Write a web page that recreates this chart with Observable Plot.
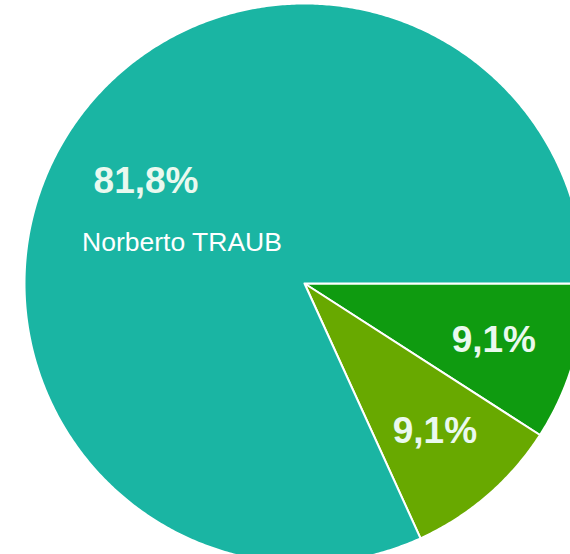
<!DOCTYPE html>
<html>
<head>
<meta charset="utf-8">
<script src="https://cdn.jsdelivr.net/npm/d3@7"></script>
<script src="https://cdn.jsdelivr.net/npm/@observablehq/plot@0.6"></script>
<style>
  html, body { margin: 0; padding: 0; background: #ffffff; overflow: hidden; }
  #chart svg { display: block; overflow: hidden; }
</style>
</head>
<body>
<div id="chart"></div>
<script>
// Slices in clockwise order, starting at 3 o'clock
const sliceNames = ["", "", "Norberto TRAUB"]; // only the large slice is named in the picture
const sliceShares = [9.1, 9.1, 81.8];
const shareLabels = ["9,1%", "9,1%", "81,8%"];
const sliceColors = ["#0f9b10", "#68a900", "#1ab5a3"];

const W = 570, H = 554;
const CX = 304, CY = 283, R = 280;

const arcs = d3.pie().sort(null)
  .startAngle(Math.PI / 2)
  .endAngle(Math.PI / 2 + 2 * Math.PI)(sliceShares);

const poly = [];
arcs.forEach((a, i) => {
  poly.push({i, x: 0, y: 0, color: sliceColors[i]});
  const n = Math.max(8, Math.ceil((a.endAngle - a.startAngle) * 120));
  for (let k = 0; k <= n; k++) {
    const t = a.startAngle + (a.endAngle - a.startAngle) * k / n;
    poly.push({i, x: Math.sin(t), y: Math.cos(t), color: sliceColors[i]});
  }
  poly.push({i, x: 0, y: 0, color: sliceColors[i]});
});

const labelR = 0.69;
const labels = arcs.map((a, i) => {
  const m = (a.startAngle + a.endAngle) / 2;
  return {x: labelR * Math.sin(m), y: labelR * Math.cos(m), pct: shareLabels[i], name: sliceNames[i]};
});

const chart = Plot.plot({
  width: W,
  height: H,
  margin: 0,
  style: {background: "#ffffff", fontFamily: "Liberation Sans, Arial, sans-serif"},
  x: {domain: [-CX / R, (W - CX) / R], axis: null},
  y: {domain: [-(H - CY) / R, CY / R], axis: null},
  color: {type: "identity"},
  marks: [
    Plot.line(poly, {x: "x", y: "y", z: "i", fill: "color", stroke: "#ffffff", strokeWidth: 2, strokeLinejoin: "round"}),
    Plot.text(labels, {x: "x", y: "y", text: "pct", fill: "#eaf9ef", fontSize: 37, fontWeight: "bold", dx: 4, dy: 2, textAnchor: "middle", lineAnchor: "middle"}),
    Plot.text(labels.filter(d => d.name), {x: "x", y: "y", text: "name", fill: "#ffffff", fontSize: 26.5, dx: 40, dy: 64, textAnchor: "middle", lineAnchor: "middle"})
  ]
});
document.getElementById("chart").appendChild(chart);
</script>
</body>
</html>
